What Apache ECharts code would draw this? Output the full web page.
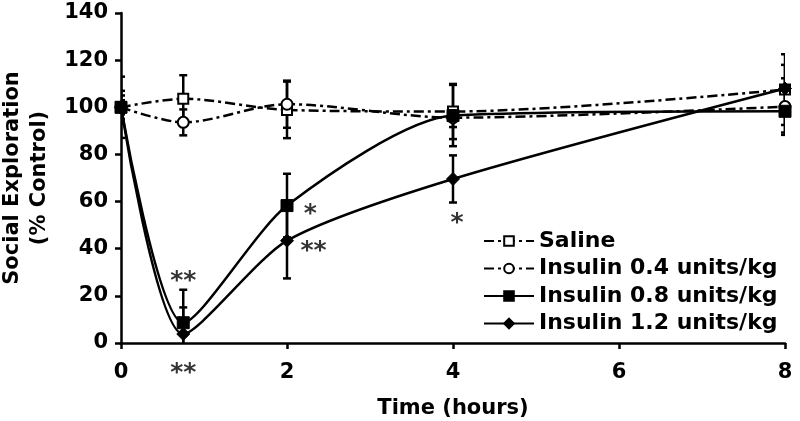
<!DOCTYPE html>
<html>
<head>
<meta charset="utf-8">
<script src="https://cdn.jsdelivr.net/npm/echarts@6/dist/echarts.min.js"></script>
<style>html,body{margin:0;padding:0;background:#fff}#c{width:800px;height:421px}</style>
</head>
<body>
<div id="c"></div>
<script>
var times = [0, 0.75, 2, 4, 8];
var seriesNames = ['Saline', 'Insulin 0.4 units/kg', 'Insulin 0.8 units/kg', 'Insulin 1.2 units/kg'];
var saline = [100, 103.6, 98.9, 98.2, 107.5];
var salineErr = [13, 10, 12, 11.7, 15];
var ins04 = [100, 93.6, 101.3, 95.6, 100.3];
var ins04Err = [7, 5.5, 10, 4, 12];
var ins08 = [100, 8.6, 58.3, 96.5, 98.3];
var ins08Err = [5, 14, 13.5, 13, 9];
var ins12 = [100, 3.8, 43.4, 69.6, 108];
var ins12Err = [3, 11.3, 16, 10, 10];
var xTicks = [0, 2, 4, 6, 8];
var yTicks = [0, 20, 40, 60, 80, 100, 120, 140];
var annotations = [
  {x: 0.75, y: 28.1, text: '**'},
  {x: 0.75, y: -10.7, text: '**'},
  {x: 2.28, y: 56.8, text: '*'},
  {x: 2.32, y: 40.9, text: '**'},
  {x: 4.05, y: 52.9, text: '*'}
];

var FONT = 'DejaVu Sans';
function pairs(vals) { return times.map(function (t, i) { return [t, vals[i]]; }); }
function errData(vals, errs) { return times.map(function (t, i) { return [t, vals[i] - errs[i], vals[i] + errs[i]]; }); }

function errSeries(vals, errs) {
  return {
    type: 'custom',
    silent: true,
    z: 1,
    data: errData(vals, errs),
    renderItem: function (params, api) {
      var x = api.value(0);
      var lo = api.coord([x, api.value(1)]);
      var hi = api.coord([x, api.value(2)]);
      var w = 4;
      var st = {stroke: '#000', lineWidth: 2.5};
      return {
        type: 'group',
        children: [
          {type: 'line', shape: {x1: lo[0], y1: lo[1], x2: hi[0], y2: hi[1]}, style: st},
          {type: 'line', shape: {x1: lo[0] - w, y1: lo[1], x2: lo[0] + w, y2: lo[1]}, style: st},
          {type: 'line', shape: {x1: hi[0] - w, y1: hi[1], x2: hi[0] + w, y2: hi[1]}, style: st}
        ]
      };
    },
    clip: true
  };
}

var dashDot = [10, 4, 3, 4];
var option = {
  animation: false,
  backgroundColor: '#fff',
  grid: {left: 121, right: 15, top: 13, bottom: 78, containLabel: false, outerBoundsMode: 'none'},
  legend: {
    orient: 'vertical',
    left: 483,
    top: 230,
    padding: 0,
    itemWidth: 50,
    itemHeight: 12,
    itemGap: 5.5,
    data: seriesNames,
    textStyle: {fontFamily: FONT, fontWeight: 'bold', fontSize: 22, lineHeight: 20, color: '#000'}
  },
  xAxis: {
    type: 'value', min: 0, max: 8, interval: 2,
    name: 'Time (hours)', nameLocation: 'middle', nameGap: 55,
    nameTextStyle: {fontFamily: FONT, fontWeight: 'bold', fontSize: 21, color: '#000'},
    axisLine: {lineStyle: {color: '#000', width: 2.5}},
    axisTick: {show: true, length: 6, lineStyle: {color: '#000', width: 2.5}},
    axisLabel: {fontFamily: FONT, fontWeight: 'bold', fontSize: 21, color: '#000', margin: 19,
      customValues: xTicks},
    splitLine: {show: false}
  },
  yAxis: {
    type: 'value', min: 0, max: 140, interval: 20,
    name: 'Social Exploration\n(% Control)', nameLocation: 'middle', nameGap: 67, nameRotate: 90,
    nameTextStyle: {fontFamily: FONT, fontWeight: 'bold', fontSize: 21, lineHeight: 27, color: '#000'},
    axisLine: {show: true, lineStyle: {color: '#000', width: 2.5}},
    axisTick: {show: true, length: 6, lineStyle: {color: '#000', width: 2.5}},
    axisLabel: {fontFamily: FONT, fontWeight: 'bold', fontSize: 21, color: '#000', margin: 13,
      customValues: yTicks},
    splitLine: {show: false}
  },
  series: [
    errSeries(saline, salineErr),
    errSeries(ins04, ins04Err),
    errSeries(ins08, ins08Err),
    errSeries(ins12, ins12Err),
    {
      name: seriesNames[0], type: 'line', data: pairs(saline), smooth: 0.3, z: 3,
      symbol: 'rect', symbolSize: 10,
      itemStyle: {color: '#fff', borderColor: '#000', borderWidth: 2},
      lineStyle: {color: '#000', width: 2.5, type: dashDot}
    },
    {
      name: seriesNames[1], type: 'line', data: pairs(ins04), smooth: 0.3, z: 3,
      symbol: 'circle', symbolSize: 11,
      itemStyle: {color: '#fff', borderColor: '#000', borderWidth: 2},
      lineStyle: {color: '#000', width: 2.5, type: dashDot}
    },
    {
      name: seriesNames[2], type: 'line', data: pairs(ins08), smooth: 0.25, z: 3,
      symbol: 'rect', symbolSize: 12,
      itemStyle: {color: '#000', borderColor: '#000', borderWidth: 1},
      lineStyle: {color: '#000', width: 2.5}
    },
    {
      name: seriesNames[3], type: 'line', data: pairs(ins12), smooth: 0.25, z: 3,
      symbol: 'diamond', symbolSize: 13,
      itemStyle: {color: '#000', borderColor: '#000', borderWidth: 1},
      lineStyle: {color: '#000', width: 2.5}
    },
    {
      type: 'scatter', silent: true, clip: false, z: 5,
      symbolSize: 0,
      data: annotations.map(function (a) { return {value: [a.x, a.y], label: {formatter: a.text}}; }),
      label: {show: true, position: 'inside', offset: [0, 5], fontFamily: FONT, fontWeight: 'bold', fontSize: 25, color: '#000'}
    }
  ]
};
var chart = echarts.init(document.getElementById('c'), null, {renderer: 'canvas'});
chart.setOption(option);
</script>
</body>
</html>
